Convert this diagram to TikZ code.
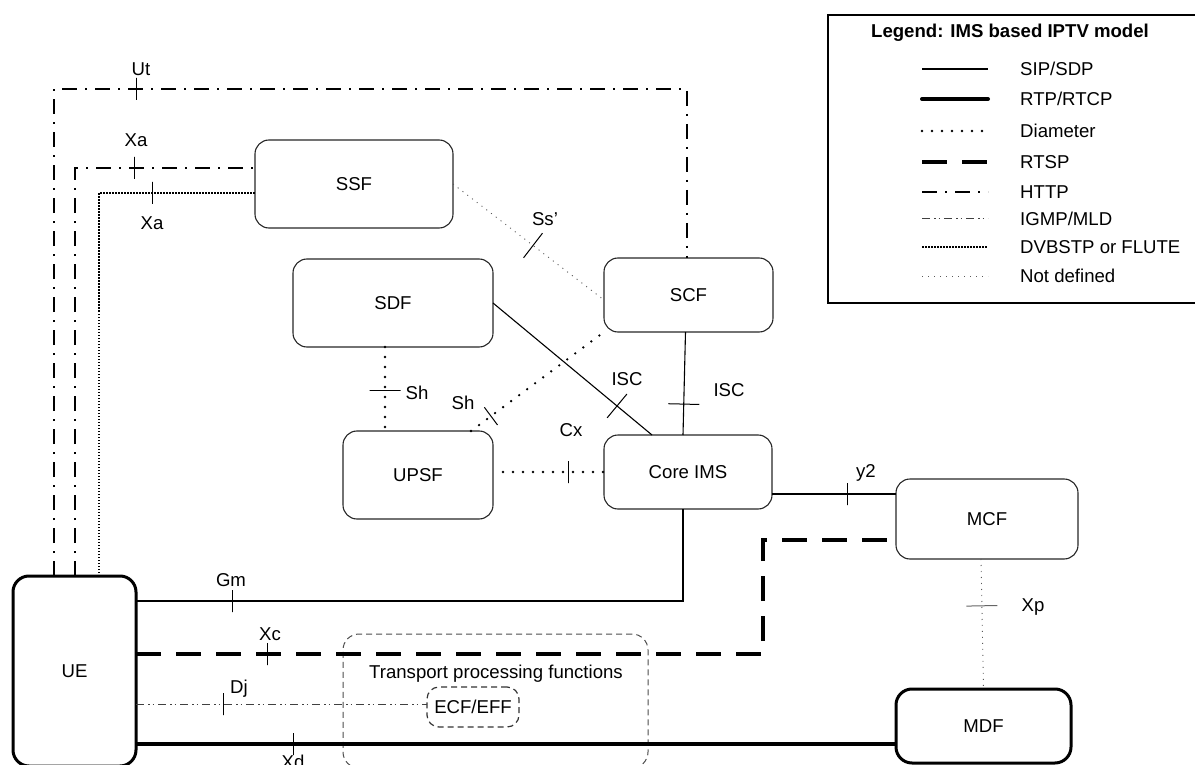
\documentclass[tikz,border=0pt]{standalone}
\usepackage{fontspec}
\setmainfont{Liberation Sans}
\usetikzlibrary{positioning, calc}
\tikzset{
  sip/.style={line width=1.1pt},
  rtp/.style={line width=4pt},
  diam/.style={line width=2.6pt, line cap=round, dash pattern=on 0pt off 10pt},
  rtsp/.style={line width=3.2pt, dash pattern=on 25pt off 15pt},
  http/.style={line width=1.6pt, dash pattern=on 15pt off 8pt on 2pt off 8pt},
  igmp/.style={line width=1pt, black!75, dash pattern=on 8pt off 4pt on 1.5pt off 3pt on 1.5pt off 4pt},
  dvb/.style={line width=1.4pt, dash pattern=on 1.5pt off 1.5pt},
  undef/.style={line width=0.9pt, black!65, dash pattern=on 1pt off 5pt}
}

\begin{document}
\begin{tikzpicture}[
      x=1pt, y=-1pt,
      every node/.style={font=\fontsize{18.6}{22}\selectfont},
      func/.style={rectangle, draw=black!85, rounded corners=14pt, line width=1.1pt, inner sep=0pt, outer sep=0pt},
      thickfunc/.style={func, draw=black, line width=3pt, rounded corners=16pt},
      tpbox/.style={rectangle, draw=black!70, dash pattern=on 6pt off 4pt, line width=1pt, rounded corners=16pt, inner sep=0pt, outer sep=0pt},
      tk/.style={draw=black, solid, sloped, rectangle, minimum width=0pt, minimum height=22pt, inner sep=0pt, outer sep=0pt, line width=1pt},
      tkl/.style={tk, minimum height=31pt},
      lab/.style={inner sep=0pt},
      legtxt/.style={anchor=west, inner sep=0pt}
    ]
    \useasboundingbox (0,0) rectangle (1195,765);

    % 1. FUNCTIONS
    \node[thickfunc, minimum width=123pt, minimum height=190pt] (ue) at (74.5,671) {UE};
    \node[func, minimum width=198pt, minimum height=88pt] (ssf) at (354,184) {SSF};
    \node[func, minimum width=200pt, minimum height=88pt] (sdf) at (393,303) {SDF};
    \node[func, minimum width=150pt, minimum height=88pt] (upsf) at (418,475) {UPSF};
    \node[func, minimum width=169pt, minimum height=74pt] (scf) at (688.5,295) {SCF};
    \node[func, minimum width=168pt, minimum height=74pt] (core) at (688,472) {Core IMS};
    \node[func, minimum width=182pt, minimum height=80pt] (mcf) at (987,519) {MCF};
    \node[thickfunc, minimum width=175pt, minimum height=74pt] (mdf) at (983.5,726) {MDF};

    % 2. TRANSPORT
    \node[tpbox, minimum width=305pt, minimum height=134pt] (tpf) at (495.5,701) {};
    \node[lab] (tptxt) at (496,674) {Transport processing functions};
    \node[tpbox, draw=black!80, line width=1.2pt, rounded corners=12pt, minimum width=92pt, minimum height=40pt] (ecf) at (473,707) {ECF/EFF};

    % 3. LEGEND
    \node[draw, line width=2.5pt, minimum width=384pt, minimum height=288pt, inner sep=0pt, outer sep=0pt] (legend) at (1020,159) {};
    \node[font=\bfseries\fontsize{18.6}{22}\selectfont] (legtitle) at (1010,33) {Legend: IMS based IPTV model};
    \node[legtxt] (lsip) at (1020,69) {SIP/SDP};
    \node[legtxt] (lrtp) at (1020,99) {RTP/RTCP};
    \node[legtxt] (ldiam) at (1020,131) {Diameter};
    \node[legtxt] (lrtsp) at (1020,162) {RTSP};
    \node[legtxt] (lhttp) at (1020,192) {HTTP};
    \node[legtxt] (ligmp) at (1020,219) {IGMP/MLD};
    \node[legtxt] (ldvb) at (1020,247) {DVBSTP or FLUTE};
    \node[legtxt] (lundef) at (1020,276) {Not defined};
    \draw[sip] ([xshift=-98pt]lsip.west) -- ([xshift=-32pt]lsip.west);
    \draw[rtp, line cap=round] ([xshift=-98pt]lrtp.west) -- ([xshift=-32pt]lrtp.west);
    \draw[diam] ([xshift=-98pt]ldiam.west) -- ([xshift=-32pt]ldiam.west);
    \draw[rtsp] ([xshift=-98pt]lrtsp.west) -- ([xshift=-32pt]lrtsp.west);
    \draw[http] ([xshift=-98pt]lhttp.west) -- ([xshift=-32pt]lhttp.west);
    \draw[igmp] ([xshift=-98pt]ligmp.west) -- ([xshift=-32pt]ligmp.west);
    \draw[dvb] ([xshift=-98pt]ldvb.west) -- ([xshift=-32pt]ldvb.west);
    \draw[undef] ([xshift=-98pt]lundef.west) -- ([xshift=-32pt]lundef.west);

    %%% UE TO SSF / SCF
    \coordinate (utc) at (687,89);
    \draw[http] ([xshift=41pt]ue.north west) |- node[tk, pos=0.565] {} (utc) -- (scf.north -| utc);
    \node[lab] (utlab) at (141,69) {Ut};
    \draw[http] ([xshift=62pt]ue.north west) |- node[tk, pos=0.664] {} ([yshift=16pt]ssf.west);
    \node[lab] (xalab) at (136,140) {Xa};
    \draw[dvb] ([xshift=86pt]ue.north west) |- node[tk, pos=0.67] {} ([yshift=-9pt]ssf.west);
    \node[lab] (xblab) at (152,223) {Xa};

    %%% CONTROL INTERFACES
    \draw[undef] (ssf.east) -- node[tkl, pos=0.53] {} ([yshift=-5pt]scf.west);
    \node[lab] (sslab) at (545,219) {Ss’};
    \draw[diam] ([xshift=-8pt]sdf.south) -- node[tkl, pos=0.52] {} ([xshift=-33pt]upsf.north);
    \node[lab] (shlab) at (417,393) {Sh};
    \draw[diam] ([xshift=53pt]upsf.north) -- node[tk, pos=0.15] {} (scf.south west);
    \node[lab] (sh2lab) at (463,403) {Sh};
    \draw[sip] (sdf.east) -- node[tkl, pos=0.78] {} ([xshift=-36pt]core.north);
    \node[lab] (isclab) at (627,379) {ISC};
    \draw[sip] ([xshift=-3pt]scf.south) -- node[tkl, pos=0.70] {} ([xshift=-5pt]core.north);
    \node[lab] (isc2lab) at (729,390) {ISC};
    \draw[diam] ([xshift=10pt]upsf.east |- core.west) -- node[tk, pos=0.65] {} (core.west);
    \node[lab] (cxlab) at (571,430) {Cx};
    \draw[sip] ([yshift=-22pt]core.east) -- node[tk, pos=0.605] {} ([yshift=-22pt]core.east -| mcf.west);
    \node[lab] (y2lab) at (866,473) {y2};
    \draw[undef] ([xshift=-6pt]mcf.south) -- node[tkl, pos=0.36, draw=black!60] {} (mdf.north);
    \node[lab] (xplab) at (1033,607) {Xp};

    %%% UE TO TRANSPORT / MEDIA
    \draw[sip] ([yshift=70pt]ue.east) -| node[tk, pos=0.088] {} ([xshift=-5pt]core.south);
    \node[lab] (gmlab) at (231,580) {Gm};
    \coordinate (xcbend) at (763,600);
    \draw[rtsp] ([yshift=17pt]ue.east) -| node[tk, pos=0.105] {} (xcbend) |- ([yshift=-21pt]mcf.west);
    \node[lab] (xclab) at (270,634) {Xc};
    \draw[igmp] ([yshift=3pt]ecf.west -| ue.east) -- node[tk, pos=0.3] {} ([yshift=3pt]ecf.west);
    \node[lab] (djlab) at (239,689) {Dj};
    \draw[rtp] ([yshift=-73pt]ue.east) -- node[tk, pos=0.207] {} ([yshift=-73pt]ue.east -| mdf.west);
    \node[lab] (xdlab) at (293,762) {Xd};
\end{tikzpicture}
\end{document}
